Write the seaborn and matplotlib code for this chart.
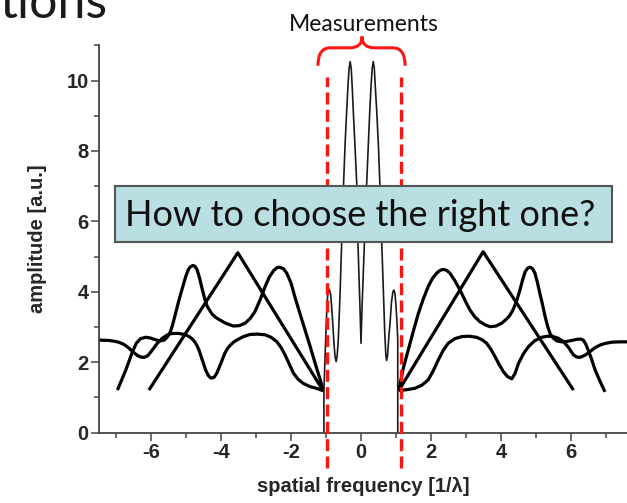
import numpy as np
import pandas as pd
import matplotlib
matplotlib.use("Agg")
import matplotlib.pyplot as plt
from matplotlib.path import Path
from matplotlib.patches import PathPatch, Rectangle
import seaborn as sns

# ---------------- data ----------------
# measured central curve (thin line)
center_x = [-1.06, -1.06, -1.01, -0.97, -0.94, -0.91, -0.87, -0.84, -0.80, -0.77, -0.74, -0.71,
            -0.68, -0.65, -0.60, -0.55, -0.50, -0.45, -0.41, -0.37, -0.34, -0.31, -0.28, -0.25,
            -0.22, -0.17, -0.12, -0.09, -0.05, -0.03, 0.00, 0.03, 0.06, 0.10, 0.16, 0.21, 0.25,
            0.29, 0.32, 0.35, 0.38, 0.41, 0.45, 0.50, 0.54, 0.59, 0.64, 0.68, 0.71, 0.73, 0.76,
            0.80, 0.83, 0.87, 0.91, 0.94, 0.97, 1.00, 1.03, 1.05, 1.05, 1.05]
center_y = [0.00, 1.21, 2.63, 3.70, 4.02, 4.07, 3.95, 3.60, 3.00, 2.50, 2.15, 2.02,
            2.20, 2.63, 3.90, 5.47, 7.03, 8.30, 9.12, 9.90, 10.35, 10.54, 10.35, 9.80,
            9.12, 8.10, 7.03, 5.47, 4.20, 3.58, 2.54, 3.58, 4.40, 5.47, 7.03, 8.20, 9.12,
            9.90, 10.35, 10.54, 10.35, 9.80, 9.12, 8.10, 7.03, 5.47, 4.00, 2.80, 2.20, 2.05, 2.20,
            2.80, 3.11, 3.70, 4.00, 4.05, 3.95, 3.60, 3.10, 2.63, 1.21, 0.00]

# triangle-shaped extrapolation
tri_left_x = [-6.06, -3.52, -1.08]
tri_left_y = [1.21, 5.11, 1.19]
tri_right_x = [1.08, 3.49, 6.07]
tri_right_y = [1.20, 5.14, 1.21]

# double-peaked extrapolation
dbl_left_x = [-6.96, -6.72, -6.53, -6.42, -6.30, -6.15, -6.02, -5.91, -5.80, -5.72, -5.62, -5.53,
              -5.45, -5.39, -5.30, -5.20, -5.10, -5.01, -4.94, -4.88, -4.80, -4.74, -4.68, -4.61,
              -4.53, -4.46, -4.39, -4.25, -4.13, -4.03, -3.85, -3.65, -3.48, -3.31, -3.17, -3.03,
              -2.88, -2.74, -2.62, -2.50, -2.41, -2.33, -2.22, -2.12, -2.00, -1.89, -1.75, -1.60,
              -1.45, -1.31, -1.18, -1.08]
dbl_left_y = [1.21, 1.78, 2.30, 2.54, 2.67, 2.71, 2.69, 2.65, 2.62, 2.61, 2.63, 2.72,
              2.86, 3.04, 3.38, 3.77, 4.12, 4.43, 4.62, 4.71, 4.75, 4.72, 4.62, 4.38,
              4.05, 3.78, 3.58, 3.36, 3.26, 3.20, 3.10, 3.03, 3.04, 3.11, 3.24, 3.44,
              3.78, 4.15, 4.42, 4.60, 4.68, 4.70, 4.66, 4.53, 4.25, 3.86, 3.40, 2.92,
              2.44, 1.97, 1.55, 1.21]
dbl_right_x = [1.08, 1.20, 1.35, 1.50, 1.64, 1.78, 1.92, 2.04, 2.16, 2.26, 2.35, 2.45, 2.54,
               2.68, 2.83, 2.97, 3.11, 3.25, 3.40, 3.55, 3.69, 3.86, 4.02, 4.15, 4.25, 4.33,
               4.44, 4.54, 4.62, 4.69, 4.76, 4.83, 4.90, 4.97, 5.04, 5.11, 5.19, 5.26, 5.33,
               5.40, 5.49, 5.59, 5.73, 5.88, 6.02, 6.16, 6.27, 6.35, 6.42, 6.49, 6.59, 6.69,
               6.83, 6.97]
dbl_right_y = [1.20, 1.80, 2.35, 2.90, 3.39, 3.80, 4.15, 4.38, 4.53, 4.61, 4.64, 4.61, 4.53,
               4.32, 4.05, 3.76, 3.49, 3.29, 3.15, 3.06, 3.01, 3.03, 3.11, 3.22, 3.33, 3.46,
               3.72, 4.05, 4.35, 4.57, 4.67, 4.70, 4.66, 4.53, 4.27, 3.96, 3.62, 3.30, 3.03,
               2.82, 2.69, 2.61, 2.58, 2.59, 2.62, 2.65, 2.66, 2.63, 2.52, 2.35, 2.08, 1.78,
               1.46, 1.16]

# flat, wavy extrapolation
flat_left_x = [-7.49, -7.20, -7.01, -6.90, -6.80, -6.72, -6.63, -6.52, -6.40, -6.30, -6.20, -6.10,
               -6.00, -5.91, -5.82, -5.68, -5.53, -5.44, -5.34, -5.22, -5.10, -5.00, -4.91, -4.83,
               -4.75, -4.69, -4.63, -4.54, -4.44, -4.36, -4.29, -4.20, -4.12, -4.00, -3.89, -3.80,
               -3.72, -3.63, -3.55, -3.36, -3.17, -2.95, -2.74, -2.57, -2.41, -2.29, -2.17, -2.05,
               -1.93, -1.80, -1.65, -1.46, -1.27, -1.08]
flat_left_y = [2.63, 2.62, 2.59, 2.56, 2.52, 2.47, 2.40, 2.30, 2.20, 2.15, 2.14, 2.18,
               2.30, 2.42, 2.54, 2.68, 2.78, 2.81, 2.82, 2.82, 2.80, 2.77, 2.73, 2.67,
               2.58, 2.48, 2.35, 2.08, 1.78, 1.62, 1.55, 1.57, 1.69, 1.98, 2.26, 2.41,
               2.50, 2.58, 2.63, 2.73, 2.79, 2.80, 2.78, 2.71, 2.59, 2.43, 2.21, 1.95,
               1.69, 1.52, 1.40, 1.31, 1.26, 1.19]
flat_right_x = [1.08, 1.30, 1.54, 1.74, 1.92, 2.06, 2.21, 2.35, 2.49, 2.68, 2.88, 3.09, 3.30,
                3.46, 3.59, 3.71, 3.83, 3.95, 4.07, 4.19, 4.31, 4.40, 4.50, 4.64, 4.78, 4.96,
                5.16, 5.33, 5.49, 5.64, 5.78, 5.93, 6.07, 6.16, 6.26, 6.40, 6.54, 6.68, 6.83,
                7.00, 7.16, 7.40, 7.60]
flat_right_y = [1.20, 1.22, 1.26, 1.35, 1.50, 1.75, 2.07, 2.34, 2.54, 2.67, 2.73, 2.74, 2.71,
                2.64, 2.54, 2.37, 2.16, 1.93, 1.73, 1.59, 1.53, 1.68, 1.97, 2.24, 2.44, 2.61,
                2.71, 2.74, 2.73, 2.68, 2.59, 2.42, 2.21, 2.15, 2.14, 2.20, 2.30, 2.41, 2.49,
                2.54, 2.57, 2.58, 2.58]

cutoff_x = [-0.98, 1.13]          # red dashed "measurement" limits
x_ticks = [-6, -4, -2, 0, 2, 4, 6]
y_ticks = [0, 2, 4, 6, 8, 10]

# ---------------- styling ----------------
sns.set_style("ticks")
plt.rcParams['font.family'] = ['Liberation Sans', 'DejaVu Sans']
plt.rcParams['axes.unicode_minus'] = False

W, H = 627, 503
fig = plt.figure(figsize=(W / 100, H / 100), dpi=100)
ax = fig.add_axes([99 / W, 1 - 432.7 / H, 528 / W, (432.7 - 45) / H])

thick = 2.3
segments = [
    (tri_left_x, tri_left_y), (tri_right_x, tri_right_y),
    (dbl_left_x, dbl_left_y), (dbl_right_x, dbl_right_y),
    (flat_left_x, flat_left_y), (flat_right_x, flat_right_y),
]
for sx, sy in segments:
    sns.lineplot(x=sx, y=sy, sort=False, estimator=None, color='black', lw=thick, ax=ax,
                 solid_capstyle='butt', solid_joinstyle='round')
sns.lineplot(x=center_x, y=center_y, sort=False, estimator=None, color='#1a1a1a', lw=1.2, ax=ax)

ax.set_xlim(-7.486, 7.6)
ax.set_ylim(0, 11.01)
ax.set_xticks(x_ticks)
ax.set_yticks(y_ticks)
ax.set_xticks([-7, -5, -3, -1, 1, 3, 5, 7], minor=True)
ax.set_yticks([1, 3, 5, 7, 9, 11], minor=True)
ax.tick_params(which='major', direction='out', length=5.5, width=1.1, color='#444444',
               labelsize=14.5, pad=2)
ax.tick_params(which='minor', direction='out', length=3.3, width=1.1, color='#444444')
for lab in ax.get_xticklabels() + ax.get_yticklabels():
    lab.set_fontweight('bold')
for s in ['top', 'right']:
    ax.spines[s].set_visible(False)
for s in ['left', 'bottom']:
    ax.spines[s].set_color('#444444')
    ax.spines[s].set_linewidth(1.3)

ax.set_xlabel('spatial frequency [1/λ]', fontsize=14.5, fontweight='bold', labelpad=11)
ax.set_ylabel('amplitude [a.u.]', fontsize=14.5, fontweight='bold', labelpad=14)

# red dashed cutoff lines (extend below the axis)
red = '#ff1414'
for cx in cutoff_x:
    ax.plot([cx, cx], [-1.0, 10.1], color=red, lw=2.4, dashes=(3.6, 1.6), clip_on=False, zorder=5)

# red brace
x0, x1, xc = -1.23, 1.26, 0.03
ye, yh, yt = 10.42, 10.93, 11.25
r = 0.35
verts = [(x0, ye), (x0, yh), (x0 + r, yh),
         (xc - r, yh), (xc, yh), (xc, yt),
         (xc, yh), (xc + r, yh),
         (x1 - r, yh), (x1, yh), (x1, ye)]
codes = [Path.MOVETO, Path.CURVE3, Path.CURVE3,
         Path.LINETO, Path.CURVE3, Path.CURVE3,
         Path.CURVE3, Path.CURVE3,
         Path.LINETO, Path.CURVE3, Path.CURVE3]
ax.add_patch(PathPatch(Path(verts, codes), fill=False, edgecolor=red, lw=2.2, clip_on=False,
                       capstyle='butt', zorder=6))

fig.text(364 / W, 1 - 31 / H, 'Measurements', family=['Lato', 'DejaVu Sans'], fontsize=16.5,
         ha='center', va='baseline', color='#111111')

# slide overlay box
bx0, bx1, by0, by1 = 115, 612, 186, 242
fig.patches.append(Rectangle((bx0 / W, 1 - by1 / H), (bx1 - bx0) / W, (by1 - by0) / H,
                             transform=fig.transFigure, facecolor='#b9dfe3', edgecolor='#555555',
                             lw=1.5, zorder=10))
fig.text(125 / W, 1 - 226 / H, 'How to choose the right one?', family=['Lato', 'DejaVu Sans'],
         fontsize=26, ha='left', va='baseline', color='#111111', zorder=11)

# cropped slide title (partly outside the picture, as in the reference)
fig.text(0, 1 - 18 / H, 'tions', family=['Lato', 'DejaVu Sans'], fontsize=36,
         ha='left', va='baseline', color='#1a1a1a')

fig.savefig('out.png', dpi=100)
